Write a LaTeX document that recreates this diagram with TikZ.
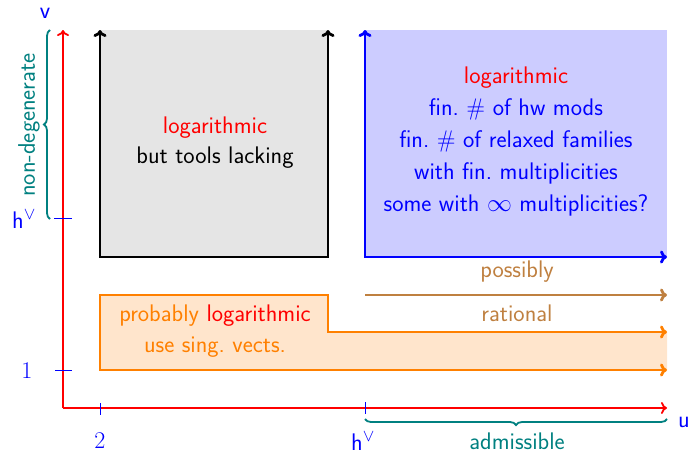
\documentclass[tikz,border=0pt]{standalone}
\usepackage{fontspec}
\usetikzlibrary{decorations.pathreplacing,arrows.meta}
\begin{document}
\begin{tikzpicture}[x=1pt,y=-1pt,font=\fontsize{24}{32}\selectfont\sffamily,
  axisline/.style={red,line width=1.8pt,-{Computer Modern Rightarrow[length=6pt,width=12pt]}},
  tickline/.style={blue,line width=0.7pt},
  thicktip/.style={{Computer Modern Rightarrow[length=7pt,width=13pt]}-{Computer Modern Rightarrow[length=7pt,width=13pt]}},
  endtip/.style={-{Computer Modern Rightarrow[length=7pt,width=13pt]}},
  blackline/.style={black,line width=2.8pt},
  blueline/.style={blue,line width=2.8pt},
  orangeline/.style={orange,line width=2.8pt},
  brownline/.style={brown,line width=2.8pt},
  bracestyle/.style={teal,line width=1.8pt,decorate,decoration={brace,amplitude=6pt}},
  lbl/.style={inner sep=0pt}]
\useasboundingbox (0,0) rectangle (690,455);
% coordinates
\coordinate (O) at (63,408);
\coordinate (vtop) at (63,30);
\coordinate (uend) at (667,408);
\coordinate (gtl) at (100,30);
\coordinate (gbl) at (100,257);
\coordinate (gbr) at (328,257);
\coordinate (gtr) at (328,30);
\coordinate (btl) at (365,30);
\coordinate (bbl) at (365,257);
\coordinate (bbr) at (667,257);
\coordinate (otl) at (100,295);
\coordinate (otm) at (328,295);
\coordinate (omd) at (328,332);
\coordinate (omr) at (667,332);
\coordinate (obl) at (100,370);
\coordinate (obr) at (667,370);
\coordinate (brl) at (365,295);
\coordinate (brr) at (667,295);
% fills
\fill[black!10] (gtl) rectangle (gbr);
\fill[blue!20] (btl) rectangle (bbr);
\fill[orange!20] (otl) -- (otm) -- (omd) -- (omr) -- (obr) -- (obl) -- cycle;
% region borders
\draw[blackline,thicktip] (gtl) -- (gbl) -- (gbr) -- (gtr);
\draw[blueline,thicktip] (btl) -- (bbl) -- (bbr);
\draw[orangeline,thicktip] (obr) -- (obl) -- (otl) -- (otm) -- (omd) -- (omr);
\draw[brownline,endtip] (brl) -- (brr);
% axes
\draw[axisline] (O) -- (vtop);
\draw[axisline] (O) -- (uend);
% ticks
\coordinate (t1a) at (54,218); \coordinate (t1b) at (72,218);
\coordinate (t2a) at (55,370); \coordinate (t2b) at (72,370);
\coordinate (t3a) at (100,403); \coordinate (t3b) at (100,415);
\coordinate (t4a) at (365,402); \coordinate (t4b) at (365,414);
\draw[tickline] (t1a) -- (t1b);
\draw[tickline] (t2a) -- (t2b);
\draw[tickline] (t3a) -- (t3b);
\draw[tickline] (t4a) -- (t4b);
% braces
\coordinate (lb1) at (50,219); \coordinate (lb2) at (50,30);
\coordinate (bb1) at (667,419); \coordinate (bb2) at (365,419);
\draw[bracestyle] (lb1) -- (lb2);
\draw[bracestyle] (bb1) -- (bb2);
% labels
\node[lbl,blue] (vlab) at (45,13) {v};
\node[lbl,blue] (ulab) at (684,422) {u};
\node[lbl,blue] (hvleft) at (24,219) {h$^\vee$};
\node[lbl,blue] (onelab) at (27,371) {\rmfamily 1};
\node[lbl,blue] (twolab) at (100,441) {\rmfamily 2};
\node[lbl,blue] (hvbot) at (363,441) {h$^\vee$};
\node[lbl,teal,rotate=90] (nondeg) at (29,125) {non-degenerate};
\node[lbl,teal] (admis) at (517,441) {admissible};
\node[lbl,brown] (possibly) at (517,272) {possibly};
\node[lbl,brown] (rational) at (517,313) {rational};
\node[lbl,red] (glog) at (215,128) {logarithmic};
\node[lbl,black] (gtools) at (215,158) {but tools lacking};
\node[lbl,orange] (oprob) at (215,316) {probably \textcolor{red}{logarithmic}};
\node[lbl,orange] (osing) at (215,347) {use sing.\ vects.};
\node[lbl,blue,align=center] (btext) at (516,142) {\textcolor{red}{logarithmic}\\fin.\ \# of hw mods\\fin.\ \# of relaxed families\\with fin.\ multiplicities\\some with $\infty$ multiplicities?};
\end{tikzpicture}
\end{document}
